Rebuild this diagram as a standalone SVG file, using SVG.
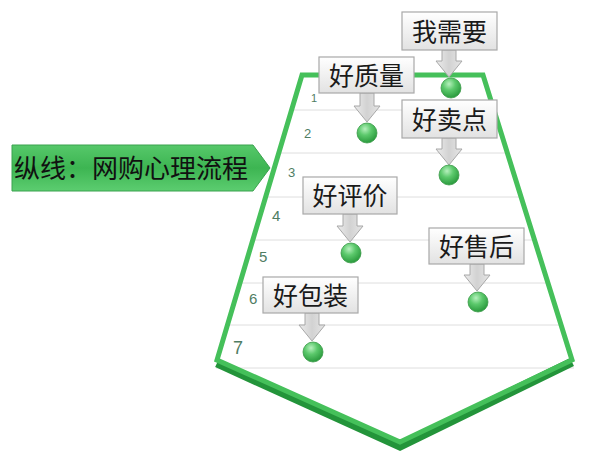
<svg xmlns="http://www.w3.org/2000/svg" width="600" height="458" viewBox="0 0 600 458">
<defs>
<linearGradient id="boxg" x1="0" y1="0" x2="0" y2="1"><stop offset="0" stop-color="#ffffff"/><stop offset="1" stop-color="#e2e2e2"/></linearGradient>
<linearGradient id="arrg" x1="0" y1="0" x2="1" y2="0"><stop offset="0" stop-color="#ececec"/><stop offset="0.5" stop-color="#d2d2d2"/><stop offset="1" stop-color="#e6e6e6"/></linearGradient>
<linearGradient id="bang" x1="0" y1="0" x2="0" y2="1"><stop offset="0" stop-color="#56c86a"/><stop offset="0.5" stop-color="#3db552"/><stop offset="1" stop-color="#5ccd70"/></linearGradient>
<radialGradient id="ballg" cx="0.4" cy="0.3" r="0.7"><stop offset="0" stop-color="#b6f0bd"/><stop offset="0.45" stop-color="#5cc96c"/><stop offset="1" stop-color="#2a9a3d"/></radialGradient>
</defs>
<style>
.box{fill:url(#boxg);stroke:#a8a8a8;stroke-width:1.2}
.lbl{font-family:"Noto Sans CJK SC","Noto Sans",sans-serif;font-size:25px;fill:#1a1a1a;text-anchor:middle}
.arr{fill:url(#arrg);stroke:#a8a8a8;stroke-width:1}
.ball{fill:url(#ballg);stroke:#3a9a48;stroke-width:0.8}
.num{font-family:"Liberation Sans",Arial,sans-serif;fill:#4f7d63}
.row{stroke:#dedede;stroke-width:1}
</style>
<rect width="600" height="458" fill="#ffffff"/>
<g id="rows">
<line class="row" x1="292" y1="110" x2="494" y2="110"/>
<line class="row" x1="279" y1="153" x2="507" y2="153"/>
<line class="row" x1="266" y1="197" x2="521" y2="197"/>
<line class="row" x1="253" y1="240" x2="534" y2="240"/>
<line class="row" x1="241" y1="283" x2="547" y2="283"/>
<line class="row" x1="228" y1="325" x2="560" y2="325"/>
<line class="row" x1="216" y1="368" x2="574" y2="368"/>
</g>
<g id="numbers">
<text class="num" x="311" y="102" font-size="11">1</text>
<text class="num" x="304" y="138" font-size="13">2</text>
<text class="num" x="288" y="177" font-size="13">3</text>
<text class="num" x="272" y="221" font-size="15">4</text>
<text class="num" x="259" y="262" font-size="15">5</text>
<text class="num" x="249" y="304" font-size="15">6</text>
<text class="num" x="233" y="354" font-size="18">7</text>
</g>
<g id="pentagon">
<polyline points="217,363 400,446 572,362" fill="none" stroke="#23943a" stroke-width="9" stroke-linejoin="miter"/>
<polygon points="302,75 483,75 572,360 400,442 217,360" fill="none" stroke="#45c05a" stroke-width="5" stroke-linejoin="miter"/>
</g>
<g id="banner">
<polygon points="12,145 253,145 270,168 253,191 12,191" fill="url(#bang)" stroke="#3aa24e" stroke-width="1"/>
<text x="14" y="178" font-family="'Noto Sans CJK SC',sans-serif" font-size="26" fill="#111">纵线：网购心理流程</text>
</g>
<g id="connectors">
<polygon class="arr" points="442,50 456,50 456,61 462,61 449,77 436,61 442,61"/>
<polygon class="arr" points="360,93 374,93 374,106 380,106 367,122 354,106 360,106"/>
<polygon class="arr" points="442,138 456,138 456,149 462,149 449,165 436,149 442,149"/>
<polygon class="arr" points="343,214 357,214 357,226 363,226 350,242 337,226 343,226"/>
<polygon class="arr" points="470,264 484,264 484,275 490,275 477,291 464,275 470,275"/>
<polygon class="arr" points="305,313 319,313 319,325 325,325 312,341 299,325 305,325"/>
</g>
<g id="node-woxuyao">
<rect class="box" x="402" y="12" width="95" height="38"/>
<text class="lbl" x="449.5" y="41">我需要</text>
<circle class="ball" cx="451" cy="88" r="10"/>
</g>
<g id="node-haozhiliang">
<rect class="box" x="319" y="57" width="95" height="36"/>
<text class="lbl" x="366.5" y="85">好质量</text>
<circle class="ball" cx="367" cy="133" r="10"/>
</g>
<g id="node-haomaidian">
<rect class="box" x="402" y="100" width="95" height="38"/>
<text class="lbl" x="449.5" y="129">好卖点</text>
<circle class="ball" cx="449" cy="175" r="10"/>
</g>
<g id="node-haopingjia">
<rect class="box" x="303" y="177" width="94" height="37"/>
<text class="lbl" x="350" y="205">好评价</text>
<circle class="ball" cx="351" cy="253" r="10"/>
</g>
<g id="node-haoshouhou">
<rect class="box" x="429" y="228" width="95" height="36"/>
<text class="lbl" x="476.5" y="256">好售后</text>
<circle class="ball" cx="478" cy="302" r="10"/>
</g>
<g id="node-haobaozhuang">
<rect class="box" x="263" y="277" width="95" height="36"/>
<text class="lbl" x="310.5" y="305">好包装</text>
<circle class="ball" cx="313" cy="352" r="10"/>
</g>
</svg>
